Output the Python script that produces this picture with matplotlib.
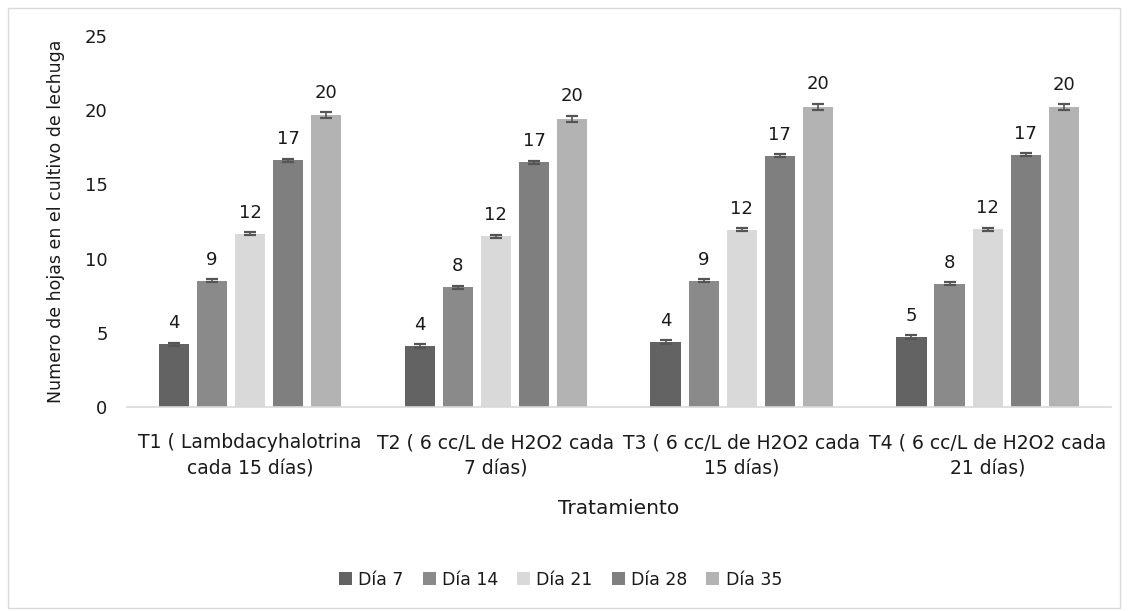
import matplotlib
matplotlib.use("Agg")
import matplotlib.pyplot as plt
import numpy as np
from matplotlib.patches import Rectangle

plt.rcParams['font.family'] = ['DejaVu Sans']

categories = ["T1 ( Lambdacyhalotrina\ncada 15 días)",
              "T2 ( 6 cc/L de H2O2 cada\n7 días)",
              "T3 ( 6 cc/L de H2O2 cada\n15 días)",
              "T4 ( 6 cc/L de H2O2 cada\n21 días)"]
series = ["Día 7", "Día 14", "Día 21", "Día 28", "Día 35"]
values = {
    "Día 7":  [4.22, 4.11, 4.36, 4.72],
    "Día 14": [8.49, 8.07, 8.49, 8.31],
    "Día 21": [11.66, 11.50, 11.93, 11.99],
    "Día 28": [16.64, 16.49, 16.94, 17.00],
    "Día 35": [19.68, 19.43, 20.24, 20.20],
}
errors = {
    "Día 7":  [0.12, 0.12, 0.12, 0.12],
    "Día 14": [0.1, 0.1, 0.1, 0.1],
    "Día 21": [0.1, 0.1, 0.1, 0.1],
    "Día 28": [0.1, 0.1, 0.1, 0.1],
    "Día 35": [0.2, 0.2, 0.2, 0.2],
}
labels = {
    "Día 7":  ["4", "4", "4", "5"],
    "Día 14": ["9", "8", "9", "8"],
    "Día 21": ["12", "12", "12", "12"],
    "Día 28": ["17", "17", "17", "17"],
    "Día 35": ["20", "20", "20", "20"],
}
colors = ["#636363", "#8a8a8a", "#d9d9d9", "#7f7f7f", "#b3b3b3"]

fig = plt.figure(figsize=(11.28, 6.11), dpi=100)
ax = fig.add_axes([0.1126, 0.334, 0.872, 0.607])

x = np.arange(len(categories))
slot = 0.155
width = 0.123
for i, s in enumerate(series):
    pos = x + (i - 2) * slot
    ax.bar(pos, values[s], width=width, color=colors[i], label=s, zorder=2)
    ax.errorbar(pos, values[s], yerr=errors[s], fmt='none', ecolor='#555555',
                elinewidth=1.2, capsize=4, capthick=1.6, zorder=3)
    for p, v, e, lab in zip(pos, values[s], errors[s], labels[s]):
        ax.text(p, v + e + 0.7, lab, ha='center', va='bottom', fontsize=13, color='#1a1a1a')

ax.set_xlim(-0.5, len(categories) - 0.5)
ax.set_ylim(0, 25)
ax.set_yticks([0, 5, 10, 15, 20, 25])
ax.set_xticks(x)
ax.set_xticklabels(categories, fontsize=13.5, color='#1a1a1a', linespacing=1.45)
ax.tick_params(axis='y', labelsize=13, length=0, pad=14, colors='#1a1a1a')
ax.tick_params(axis='x', length=0, pad=19)
for sp in ['top', 'right', 'left']:
    ax.spines[sp].set_visible(False)
ax.spines['bottom'].set_color('#d9d9d9')
ax.spines['bottom'].set_linewidth(1.2)

ax.set_ylabel("Numero de hojas en el cultivo de lechuga", fontsize=12.5, color='#1a1a1a', labelpad=14)
ax.set_xlabel("Tratamiento", fontsize=14.5, color='#1a1a1a', labelpad=15)

leg = fig.legend(loc='center', bbox_to_anchor=(0.497, 0.051), ncol=5, frameon=False,
                 fontsize=12.5, handlelength=0.75, handleheight=0.75, handletextpad=0.35,
                 columnspacing=1.1)
for t in leg.get_texts():
    t.set_color('#1a1a1a')

fig.patches.append(Rectangle((0.007, 0.005), 0.986, 0.982, transform=fig.transFigure,
                             fill=False, edgecolor='#d9d9d9', linewidth=1))

fig.savefig("out.png", dpi=100)
